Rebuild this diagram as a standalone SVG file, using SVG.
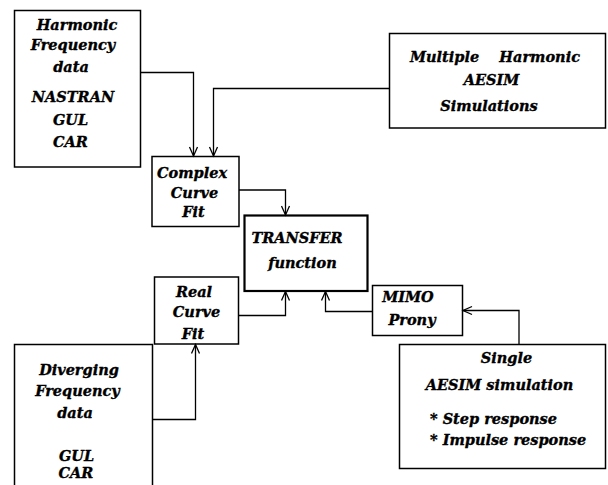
<svg xmlns="http://www.w3.org/2000/svg" width="608" height="485" viewBox="0 0 608 485">
<style>
.box{fill:#fff;stroke:#000;stroke-width:1.5}
.thick{stroke-width:2.2}
.t{font-family:"DejaVu Serif","Liberation Serif",serif;font-weight:bold;font-style:italic;font-size:14.5px;fill:#000;stroke:#000;stroke-width:0.35}
.c{text-anchor:middle}
.e{text-anchor:end}
.w{fill:none;stroke:#000;stroke-width:1.3}
</style>
<defs>
<marker id="ah" markerUnits="userSpaceOnUse" markerWidth="12" markerHeight="12" refX="10" refY="5" orient="auto">
<path d="M1,1 L10,5 L1,9" fill="none" stroke="#000" stroke-width="1.3"/>
</marker>
</defs>
<rect width="608" height="485" fill="#fff"/>
<g id="harmonic">
<rect class="box" x="14.5" y="10.5" width="126" height="156.5"/>
<text class="t c" x="77" y="30">Harmonic</text>
<text class="t c" x="73" y="50">Frequency</text>
<text class="t c" x="71" y="72">data</text>
<text class="t c" x="73" y="102">NASTRAN</text>
<text class="t c" x="70.5" y="125">GUL</text>
<text class="t c" x="70.5" y="147">CAR</text>
</g>
<g id="multiple">
<rect class="box" x="389.5" y="33.5" width="216" height="94.5"/>
<text class="t" x="410" y="62">Multiple</text>
<text class="t e" x="580" y="62">Harmonic</text>
<text class="t c" x="491.5" y="85">AESIM</text>
<text class="t c" x="489" y="110.5">Simulations</text>
</g>
<g id="complex">
<rect class="box" x="152" y="156.5" width="87" height="70"/>
<text class="t c" x="192" y="178">Complex</text>
<text class="t c" x="194.5" y="198">Curve</text>
<text class="t c" x="193.5" y="217">Fit</text>
</g>
<g id="transfer">
<rect class="box thick" x="244.5" y="215.5" width="123" height="75.5"/>
<text class="t c" x="297" y="243">TRANSFER</text>
<text class="t c" x="302.5" y="268">function</text>
</g>
<g id="real">
<rect class="box" x="154.5" y="277" width="84" height="67"/>
<text class="t c" x="194" y="297">Real</text>
<text class="t c" x="196.5" y="317">Curve</text>
<text class="t c" x="193" y="338.5">Fit</text>
</g>
<g id="mimo">
<rect class="box" x="372.5" y="285.5" width="90" height="50"/>
<text class="t c" x="408" y="302">MIMO</text>
<text class="t c" x="412" y="324.5">Prony</text>
</g>
<g id="diverging">
<path class="box" d="M14.5,486 L14.5,344.5 L152.5,344.5 L152.5,486"/>
<text class="t c" x="79" y="375">Diverging</text>
<text class="t c" x="77.5" y="396">Frequency</text>
<text class="t c" x="75" y="418">data</text>
<text class="t c" x="76.5" y="460.5">GUL</text>
<text class="t c" x="76" y="477.5">CAR</text>
</g>
<g id="single">
<rect class="box" x="399.5" y="344.5" width="206" height="124"/>
<text class="t c" x="506.5" y="362.5">Single</text>
<text class="t c" x="499.5" y="390">AESIM simulation</text>
<text class="t" x="430" y="423.5">* Step response</text>
<text class="t" x="430" y="445">* Impulse response</text>
</g>
<g id="connectors">
<path class="w" d="M140.5,72.5 L193.5,72.5 L193.5,156" marker-end="url(#ah)"/>
<path class="w" d="M389.5,88.5 L213.5,88.5 L213.5,156" marker-end="url(#ah)"/>
<path class="w" d="M239,190 L285.5,190 L285.5,215" marker-end="url(#ah)"/>
<path class="w" d="M238.5,315.5 L285.5,315.5 L285.5,291.5" marker-end="url(#ah)"/>
<path class="w" d="M372.5,311.5 L325.5,311.5 L325.5,291.5" marker-end="url(#ah)"/>
<path class="w" d="M519,344.5 L519,310.5 L463,310.5" marker-end="url(#ah)"/>
<path class="w" d="M152.5,419.5 L195.5,419.5 L195.5,344.5" marker-end="url(#ah)"/>
</g>
</svg>
